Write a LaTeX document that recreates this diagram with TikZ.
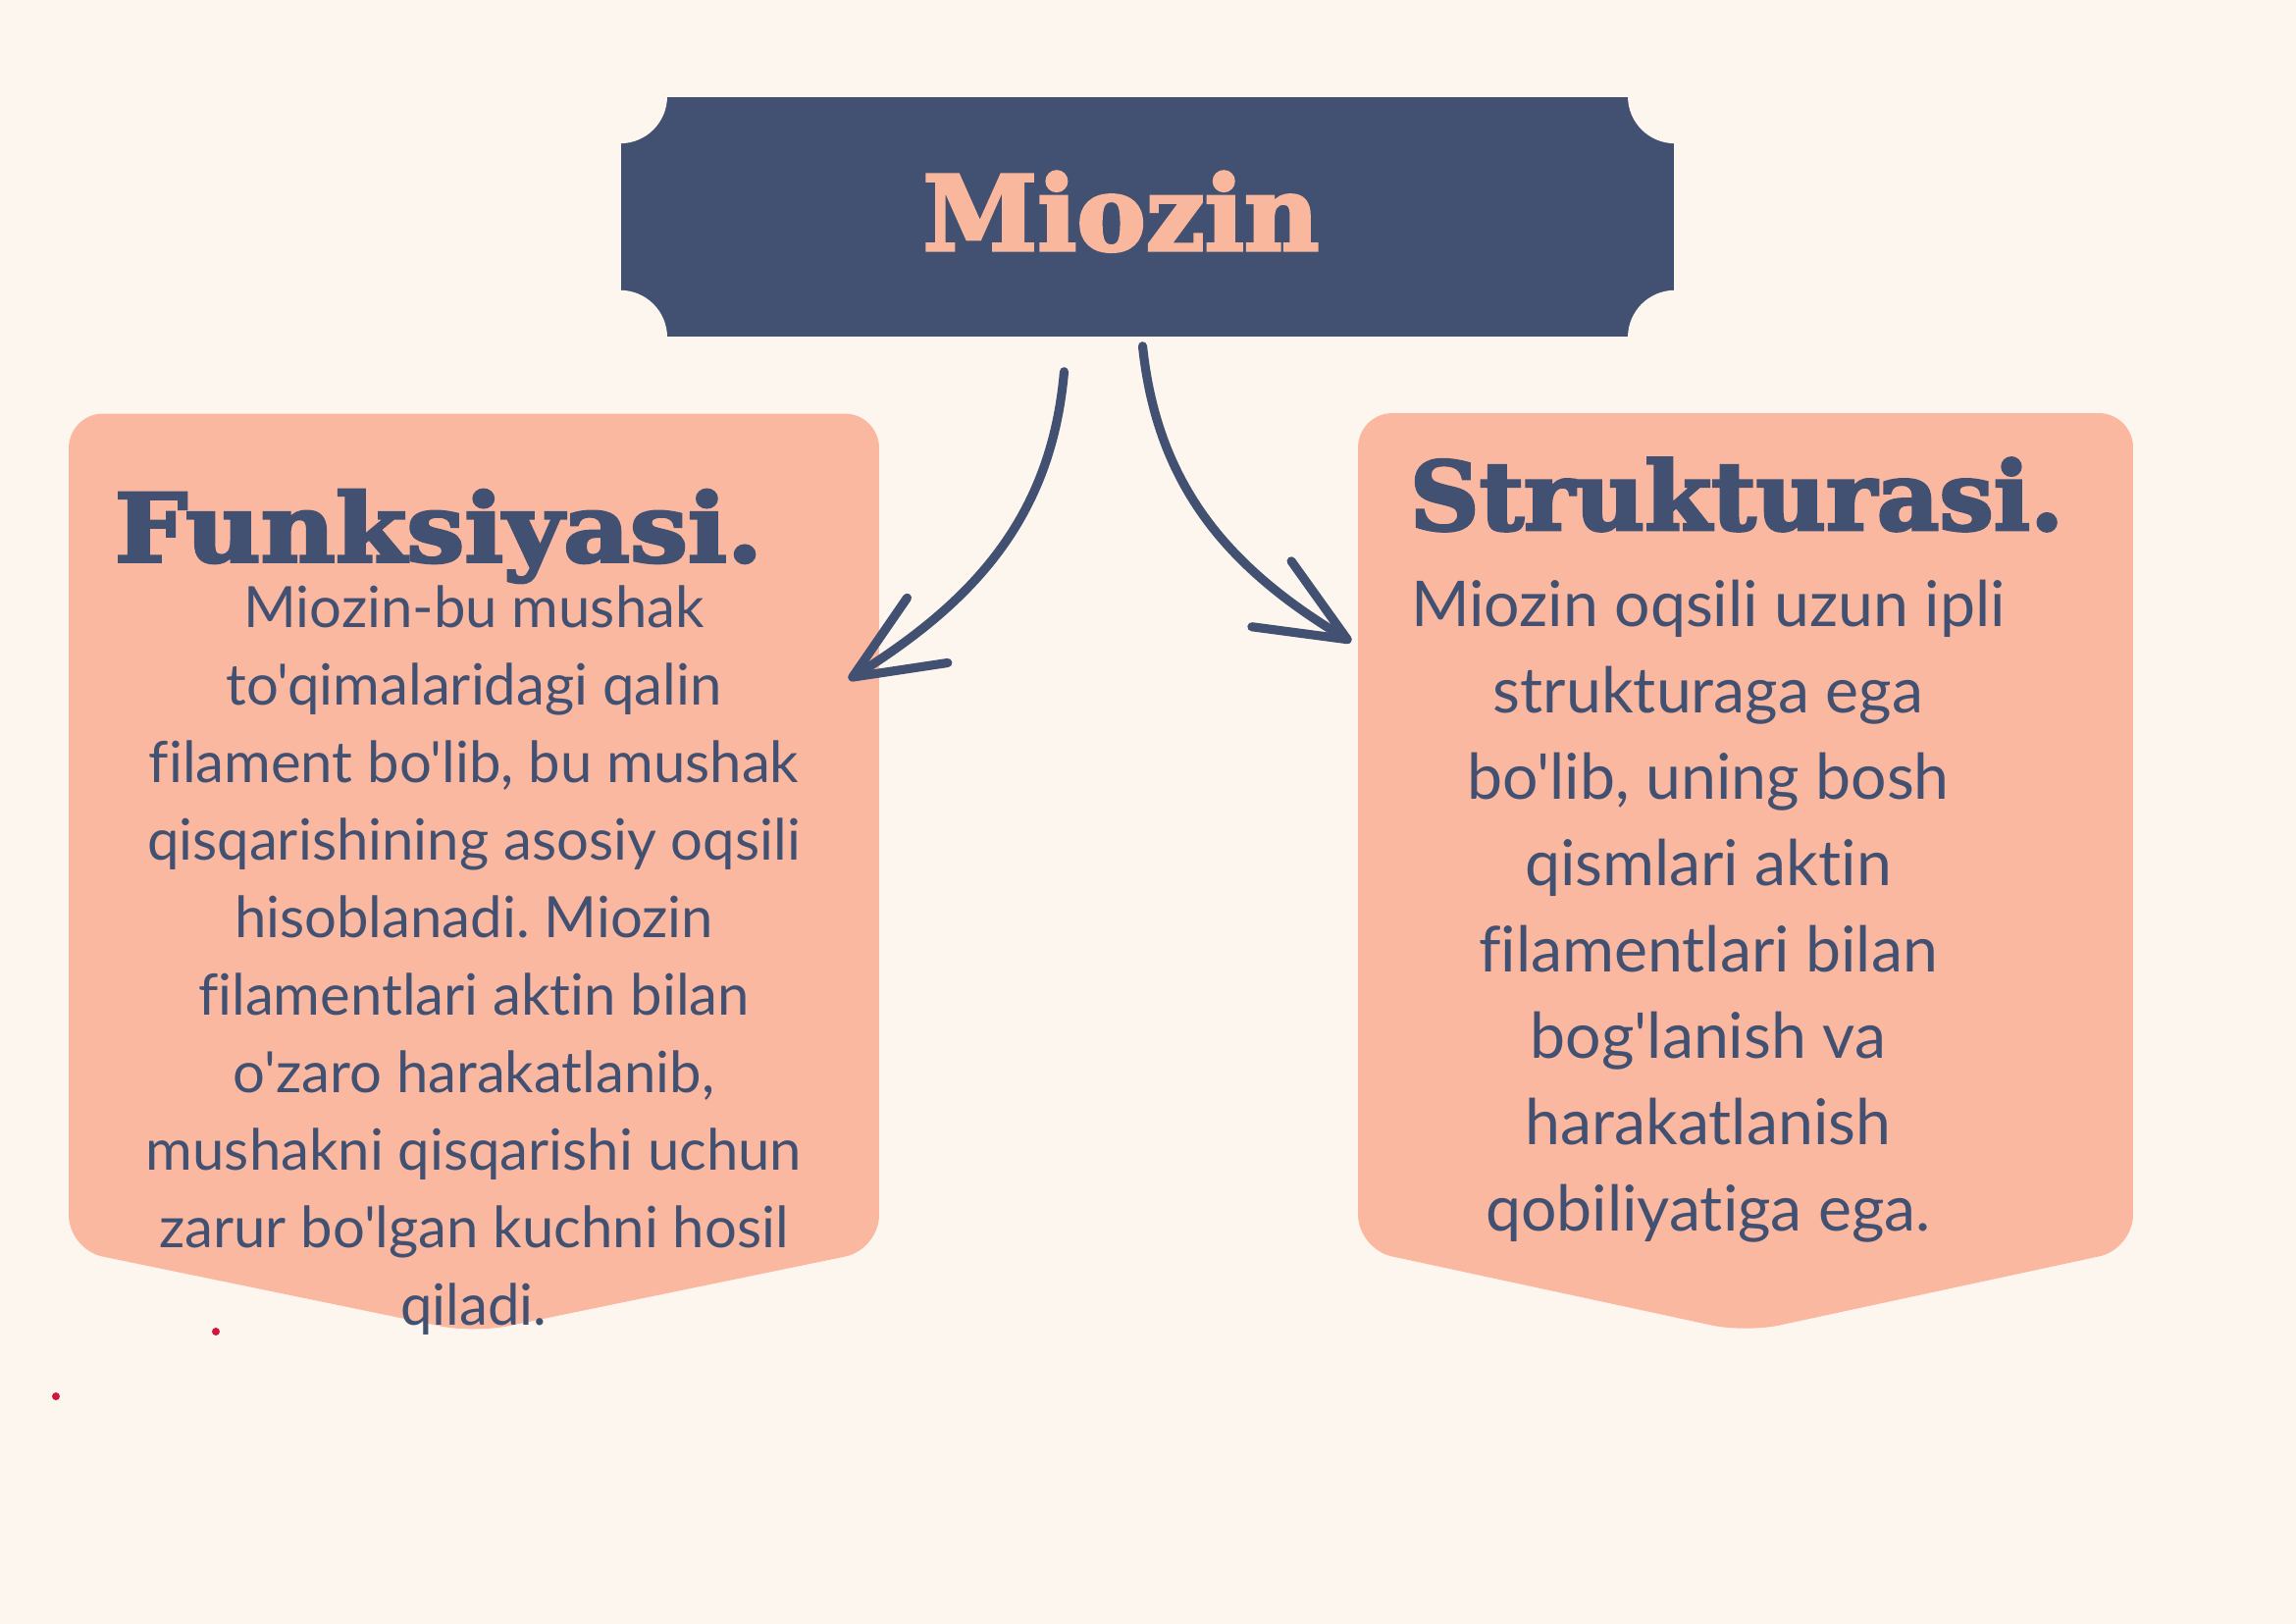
\documentclass[tikz,border=0pt]{standalone}
\usepackage{fontspec}
\usepackage{graphicx}
\usepackage{tikz}
\usetikzlibrary{arrows.meta,positioning}
\newfontfamily\bodyfont{Lato}[Ligatures=NoCommon]
\newfontfamily\headfont{DejaVu Serif}[BoldFeatures={FakeBold=3}]
\definecolor{cream}{HTML}{FDF6EF}
\definecolor{salmon}{HTML}{FBB8A0}
\definecolor{navy}{HTML}{425171}
\definecolor{peach}{HTML}{F9B89D}
\definecolor{inkred}{HTML}{D3153C}
\frenchspacing

\begin{document}
\begin{tikzpicture}
      [x=0.01cm, y=0.01cm, every node/.style={inner sep=0pt},
       frame/.style={minimum width=#1, minimum height=8.5cm}]

      \tikzstyle{titlebox} = [fill=navy, minimum width=10.73cm, minimum height=2.44cm]
      \tikzstyle{titletext} = [anchor=base, text=peach, font=\headfont\bfseries\fontsize{30}{32}\selectfont]
      \tikzstyle{heading} = [anchor=base west, text=navy, font=\headfont\bfseries\fontsize{27.5}{30}\selectfont]
      \tikzstyle{funkline} = [anchor=base, text=navy, font=\bodyfont\fontsize{16.5}{18}\selectfont]
      \tikzstyle{strukline} = [anchor=base, text=navy, font=\bodyfont\fontsize{18.3}{20}\selectfont]
      \tikzstyle{link} = [draw=navy, line width=2.6pt, line cap=round,
                          -{Straight Barb[length=0.9cm, width=0.78cm, round]}]

      \useasboundingbox (0,0) rectangle (2340,1655);
      \fill[cream] (0,0) rectangle (2340,1655);

      % the two panels
      \node[frame=8.24cm] (funk)  at (483, 807.5) {};
      \node[frame=7.88cm] (struk) at (1779, 808) {};
      \fill[salmon, rounded corners=0.35cm] (funk.north west) -- (funk.north east)
            -- (funk.south east) -- ([yshift=-0.85cm]funk.south) -- (funk.south west) -- cycle;
      \fill[salmon, rounded corners=0.35cm] (struk.north west) -- (struk.north east)
            -- (struk.south east) -- ([yshift=-0.85cm]struk.south) -- (struk.south west) -- cycle;

      % title
      \node[titlebox] (miozin) at (1169.5, 1434) {};
      \foreach \corner in {north west, north east, south west, south east}
            \fill[cream] (miozin.\corner) circle (48);
      \node[titletext] (miozinlabel) at ([shift={(-27,-34)}]miozin.center) {Miozin};

      \coordinate (funkin)  at ([shift={(-31,-271)}]funk.north east);
      \coordinate (strukin) at ([shift={(-7,-233)}]struk.north west);

      \draw[link] ([shift={(-85,-35)}]miozin.south) to[out=-95, in=32] (funkin);
      \draw[link] ([shift={(-5,-9)}]miozin.south) to[out=-84, in=149] (strukin);

      \node[heading] (funkhead)  at ([shift={(46,-151)}]funk.north west)
            {\resizebox{6.6cm}{\height}{Funksiyasi.}};
      \node[heading] (strukhead) at ([shift={(52,-119)}]struk.north west)
            {\resizebox{6.66cm}{\height}{Strukturasi.}};

      \foreach \txt [count=\i] in {Miozin-bu mushak, to'qimalaridagi qalin,
            {filament bo'lib, bu mushak}, qisqarishining asosiy oqsili,
            hisoblanadi. Miozin, filamentlari aktin bilan, {o'zaro harakatlanib,},
            mushakni qisqarishi uchun, zarur bo'lgan kuchni hosil, qiladi.}
            \node[funkline] (funkline\i) at (483, {1015-79*(\i-1)}) {\txt};

      \foreach \txt [count=\i] in {Miozin oqsili uzun ipli, strukturaga ega,
            {bo'lib, uning bosh}, qismlari aktin, filamentlari bilan,
            bog'lanish va, harakatlanish, qobiliyatiga ega.}
            \node[strukline] (strukline\i) at (1741, {1016-88*(\i-1)}) {\txt};

      \fill[inkred] (220,298) circle (4);
      \fill[inkred] (57,232) circle (4);
\end{tikzpicture}
\end{document}
